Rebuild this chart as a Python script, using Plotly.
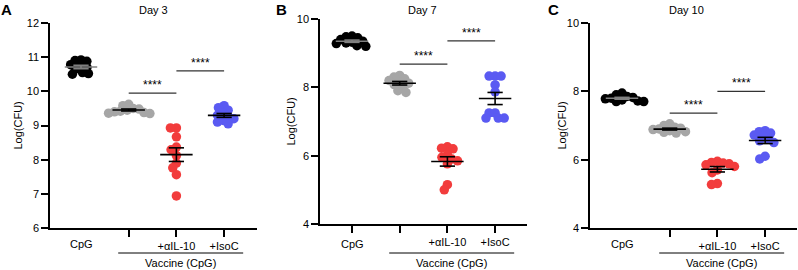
import numpy as np
import plotly.graph_objects as go

# ---------------- data ----------------
tick_labels = ["CpG", "", "+αIL-10", "+IsoC"]
panel_titles = ["Day 3", "Day 7", "Day 10"]
panel_letters = ["A", "B", "C"]

day3_cpg = [10.92, 10.90, 10.88, 10.78, 10.72, 10.70, 10.65, 10.55, 10.52, 10.50]
day3_vac = [9.62, 9.58, 9.50, 9.48, 9.45, 9.42, 9.40, 9.38, 9.36, 9.35]
day3_il10 = [8.93, 8.93, 8.67, 8.37, 8.29, 8.12, 7.90, 7.76, 7.56, 6.94]
day3_isoc = [9.58, 9.52, 9.45, 9.35, 9.30, 9.25, 9.20, 9.15, 9.10, 9.05]

day7_cpg = [9.50, 9.48, 9.45, 9.40, 9.35, 9.32, 9.30, 9.28, 9.22, 9.20]
day7_vac = [8.35, 8.30, 8.25, 8.20, 8.15, 8.12, 8.08, 8.00, 7.90, 7.85]
day7_il10 = [6.26, 6.22, 6.20, 6.02, 5.95, 5.90, 5.85, 5.76, 5.15, 5.00]
day7_isoc = [8.33, 8.33, 8.33, 8.07, 7.87, 7.25, 7.25, 7.10, 7.10, 7.10]

day10_cpg = [7.95, 7.90, 7.85, 7.82, 7.80, 7.78, 7.75, 7.72, 7.70, 7.70]
day10_vac = [7.05, 7.00, 6.95, 6.92, 6.90, 6.88, 6.85, 6.82, 6.80, 6.78]
day10_il10 = [5.95, 5.92, 5.90, 5.88, 5.85, 5.80, 5.70, 5.62, 5.30, 5.27]
day10_isoc = [6.85, 6.82, 6.78, 6.72, 6.68, 6.60, 6.55, 6.50, 6.10, 6.02]

# significance bar heights (left pair, right pair) per panel
sig_day3 = [9.95, 10.60]
sig_day7 = [8.68, 9.36]
sig_day10 = [7.36, 8.00]
sig_label = "****"

y_ranges = [[6, 12], [4, 10], [4, 10]]
y_ticks = [[6, 7, 8, 9, 10, 11, 12], [4, 6, 8, 10], [4, 6, 8, 10]]

panels = [
    [day3_cpg, day3_vac, day3_il10, day3_isoc],
    [day7_cpg, day7_vac, day7_il10, day7_isoc],
    [day10_cpg, day10_vac, day10_il10, day10_isoc],
]
sigs = [sig_day3, sig_day7, sig_day10]

# ---------------- style / layout ----------------
W, H = 798, 270
FONT = "Liberation Sans, Arial, Helvetica, sans-serif"
group_colors = ["#000000", "#A6A6A6", "#F23C3C", "#5A5AF2"]
mean_colors = ["#808080", "#000000", "#000000", "#000000"]
CAT_PX = 47.7
# pixel geometry of each panel: x axis start, x axis end, y top, y bottom, first category px
geom = [
    (50, 257, 23, 228, 81),
    (320, 527, 19, 224, 352),
    (590, 797, 23, 228, 622),
]
ytitle_x = [17, 291, 561]
letter_x = [6, 281, 553]
title_x = [153, 422, 686]
DOT = 9.5


def swarm(vals, y_px_per_unit, d):
    """Simple beeswarm: returns x offsets (in px) for each value."""
    idx = np.argsort(vals)[::-1]
    placed = []
    offs = np.zeros(len(vals))
    for i in idx:
        y = vals[i] * y_px_per_unit
        cands = [0.0]
        for (xo, yo) in placed:
            dy = y - yo
            if abs(dy) < d:
                dx = np.sqrt(d * d - dy * dy)
                cands += [xo + dx, xo - dx]
        cands = sorted(cands, key=lambda c: (abs(c), c))
        for c in cands:
            ok = all((c - xo) ** 2 + (y - yo) ** 2 >= d * d - 1e-6 for xo, yo in placed)
            if ok:
                break
        placed.append((c, y))
        offs[i] = c
    return offs


def ann(**kw):
    base = dict(showarrow=False, xanchor="center", yanchor="middle",
                font=dict(family=FONT, size=11, color="#000"))
    base.update(kw)
    return base


fig = go.Figure()
shapes = []
annotations = []

for p, groups in enumerate(panels):
    x0px, x1px, ytop, ybot, c0 = geom[p]
    xa = "x" if p == 0 else f"x{p+1}"
    ya = "y" if p == 0 else f"y{p+1}"
    yr = y_ranges[p]
    y_ppu = (ybot - ytop) / (yr[1] - yr[0])

    for g, vals in enumerate(groups):
        vals = np.array(vals, dtype=float)
        offs = swarm(vals, y_ppu, 6.0) / CAT_PX
        fig.add_trace(go.Scatter(
            x=g + offs, y=vals, mode="markers", xaxis=xa, yaxis=ya,
            marker=dict(size=DOT, color=group_colors[g], line=dict(width=0)),
            showlegend=False, hoverinfo="skip"))
        m = vals.mean()
        sem = vals.std(ddof=1) / np.sqrt(len(vals))
        lx = [g - 0.34, g + 0.34, None, g, g, None,
              g - 0.16, g + 0.16, None, g - 0.16, g + 0.16]
        ly = [m, m, None, m - sem, m + sem, None,
              m + sem, m + sem, None, m - sem, m - sem]
        fig.add_trace(go.Scatter(
            x=lx, y=ly, mode="lines", xaxis=xa, yaxis=ya,
            line=dict(color=mean_colors[g], width=1.6),
            showlegend=False, hoverinfo="skip"))

    # significance bars
    for k, sy in enumerate(sigs[p]):
        a, b = 1 + k, 2 + k
        shapes.append(dict(type="line", xref=xa, yref=ya, x0=a, x1=b, y0=sy, y1=sy,
                           line=dict(color="#333333", width=1.2)))
        annotations.append(ann(xref=xa, yref=ya, x=(a + b) / 2, y=sy, text=sig_label,
                               yanchor="bottom", yshift=-1,
                               font=dict(family=FONT, size=12, color="#000")))

    # vaccine bracket
    shapes.append(dict(type="line", xref=xa, yref="paper", x0=0.78, x1=3.4,
                       y0=1 - 253 / H, y1=1 - 253 / H, line=dict(color="#000", width=1)))
    annotations.append(ann(xref=xa, yref="paper", x=2.09, y=1 - 263 / H,
                           text="Vaccine (CpG)"))
    # CpG label
    annotations.append(ann(xref=xa, yref="paper", x=0, y=1 - 244 / H,
                           text=tick_labels[0]))
    # y title
    annotations.append(ann(xref="paper", yref="paper", x=ytitle_x[p] / W,
                           y=1 - (ytop + ybot) / 2 / H, text="Log(CFU)", textangle=-90))
    # panel title and letter
    annotations.append(ann(xref="paper", yref="paper", x=title_x[p] / W, y=1 - 10 / H,
                           text=panel_titles[p]))
    annotations.append(ann(xref="paper", yref="paper", x=letter_x[p] / W, y=1 - 10 / H,
                           text=f"<b>{panel_letters[p]}</b>",
                           font=dict(family=FONT, size=15, color="#000")))

    tickvals = [0, 1, 2, 3] if p == 1 else [1, 2, 3]
    ticktext = [""] + tick_labels[1:] if p == 1 else tick_labels[1:]
    xaxis = dict(domain=[x0px / W, x1px / W],
                 range=[(x0px - c0) / CAT_PX, (x1px - c0) / CAT_PX],
                 anchor=ya, showgrid=False, zeroline=False, showline=True,
                 automargin=False,
                 linecolor="#000", linewidth=1.5, ticks="outside", ticklen=7,
                 tickwidth=1.5, tickcolor="#000", tickvals=tickvals, ticktext=ticktext,
                 tickfont=dict(family=FONT, size=11, color="#000"))
    yaxis = dict(domain=[1 - ybot / H, 1 - ytop / H], range=yr, anchor=xa,
                 automargin=False,
                 showgrid=False, zeroline=False, showline=True, linecolor="#000",
                 linewidth=1.5, ticks="outside", ticklen=7, tickwidth=1.5,
                 tickcolor="#000", tickvals=y_ticks[p],
                 tickfont=dict(family=FONT, size=11, color="#000"))
    key = "" if p == 0 else str(p + 1)
    fig.update_layout(**{f"xaxis{key}": xaxis, f"yaxis{key}": yaxis})

fig.update_layout(width=W, height=H, margin=dict(l=0, r=0, t=0, b=0, autoexpand=False),
                  plot_bgcolor="white", paper_bgcolor="white",
                  shapes=shapes, annotations=annotations,
                  font=dict(family=FONT, size=11, color="#000"))

fig.write_html("out.html", config={"displayModeBar": False},
               post_script="document.body.style.margin='0';document.body.style.overflow='hidden';")
